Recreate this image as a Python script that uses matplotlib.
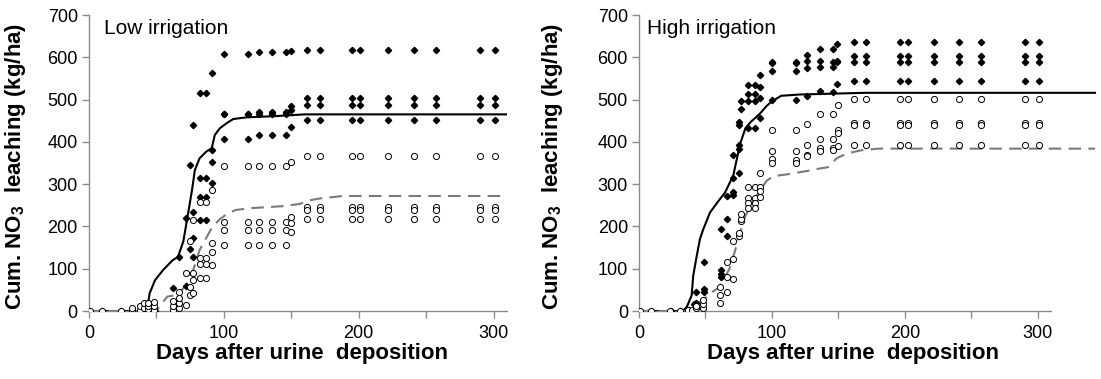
import numpy as np
import matplotlib
matplotlib.use('Agg')
import matplotlib.pyplot as plt

plt.rcParams['font.family'] = ['Liberation Sans', 'DejaVu Sans']

# ---- Low irrigation ----
low_line_day = [0, 43, 45, 49, 55, 62, 66, 70, 72.3, 74.8, 76.8, 78.5, 82, 87, 91,
                93.3, 97, 102, 107, 117, 139, 160, 310]
low_line_val = [0, 0, 42, 73, 97, 120, 128, 165, 208, 255, 294, 333, 361, 377, 385,
                416, 432, 444, 454, 458, 461, 465, 465]
low_dash_day = [0, 50, 58, 65, 72, 77.3, 82, 91, 97, 103, 109, 119, 144, 156, 164,
                171, 188, 310]
low_dash_val = [0, 0, 34, 38, 60, 97, 144, 196, 217, 231, 239, 243, 248, 253, 262,
                266, 272, 272]

late_low_days = [162, 171, 195, 201, 222, 241, 257, 290, 301]

low_fill_day = ([0, 10, 24, 32, 38, 44, 49,
                 62, 67, 67, 72, 72, 75, 75, 77, 77, 77, 77,
                 82, 82, 82, 82, 87, 87, 87, 87, 91, 91, 91, 91,
                 100, 100, 100, 100, 118, 118, 118, 118,
                 126, 126, 126, 126, 136, 136, 136, 136,
                 146, 146, 146, 146, 150, 150, 150, 150]
                + [d for d in late_low_days for _ in range(4)])
low_fill_val = ([0, 0, 0, 0, 0, 0, 0,
                 54, 19, 128, 60, 221, 147, 345, 128, 173, 235, 440,
                 516, 314, 270, 215, 516, 314, 270, 215, 562, 381, 353, 302,
                 608, 467, 467, 407, 608, 467, 467, 407,
                 612, 471, 465, 417, 612, 471, 465, 417,
                 612, 471, 465, 417, 616, 484, 476, 434]
                + [618, 504, 487, 452] * len(late_low_days))

low_open_day = ([1, 10, 24, 32, 32, 38, 38, 41, 41, 44, 44, 44, 48, 48, 48,
                 62, 62, 62, 67, 67, 67, 67, 72, 72, 75, 75, 75, 77, 77, 77, 77,
                 82, 82, 82, 82, 87, 87, 87, 87, 91, 91, 91, 91,
                 100, 100, 100, 100, 118, 118, 118, 118, 126, 126, 126, 126,
                 136, 136, 136, 136, 146, 146, 146, 146, 150, 150, 150, 150]
                + [d for d in late_low_days for _ in range(4)])
low_open_val = ([0, 0, 0, 0, 7, 3, 12, 8, 18, 4, 12, 20, 2, 12, 22,
                 2, 12, 24, 7, 19, 30, 45, 14, 89, 38, 57, 166, 43, 73, 89, 215,
                 257, 125, 110, 77, 257, 125, 110, 77, 286, 160, 139, 109,
                 344, 211, 192, 155, 344, 211, 192, 156, 344, 211, 192, 156,
                 344, 211, 192, 156, 344, 211, 192, 156, 353, 223, 207, 188]
                + [366, 246, 239, 217] * len(late_low_days))

# ---- High irrigation ----
high_line_day = [0, 33, 36, 39.6, 40.8, 43.4, 45.8, 48.4, 53.4, 59.7, 64.7, 68.5, 71,
                 76, 80, 84, 91, 96, 100, 107, 121, 146, 170, 343]
high_line_val = [0, 0, 10, 37, 84, 130, 170, 194, 233, 260, 280, 305, 322,
                 395, 432, 447, 467, 485, 496, 509, 512, 514, 516, 516]
high_dash_day = [0, 34, 40, 48, 55, 60, 64, 68, 72, 76, 80, 86, 91, 96, 101, 111,
                 126, 136, 142, 149, 157, 167, 180, 343]
high_dash_val = [0, 0, 12, 25, 45, 55, 75, 100, 140, 186, 225, 262, 285, 308, 319, 323,
                 331, 337, 340, 362, 373, 380, 384, 384]

late_high_days = [162, 171, 196, 202, 222, 241, 257, 290, 301]

high_fill_day = ([0, 9, 24, 31, 38, 41, 43, 43, 49, 49, 49,
                  61.5, 61.5, 61.5, 61.5, 66.5, 66.5, 66.5, 71, 71, 71, 71,
                  75, 75, 75, 75, 75, 77, 77,
                  82, 82, 82, 82, 87, 87, 87, 87, 91, 91, 91, 91,
                  100, 100, 100, 100, 118, 118, 118, 118, 126, 126, 126, 126,
                  136, 136, 136, 136, 146, 146, 146, 146, 149, 149, 149, 149]
                 + [d for d in late_high_days for _ in range(4)])
high_fill_val = ([0, 0, 0, 0, 0, 17, 20, 45, 45, 52, 115,
                  194, 96, 88, 80, 272, 217, 178, 370, 315, 282, 274,
                  392, 382, 327, 440, 446, 497, 478,
                  535, 514, 496, 432, 535, 514, 496, 432, 559, 530, 504, 457,
                  590, 586, 568, 500, 588, 586, 568, 500, 606, 592, 575, 509,
                  619, 592, 577, 520, 619, 590, 578, 518, 631, 592, 590, 536]
                 + [635, 603, 590, 545] * len(late_high_days))

high_open_day = ([0.5, 9, 23, 31, 37, 40, 43, 43, 48, 48, 48,
                  61, 61, 61, 66, 66, 66, 71, 71, 71, 75, 75, 77, 77, 77,
                  82, 82, 82, 82, 87, 87, 87, 87, 91, 91, 91, 91,
                  100, 100, 100, 100, 118, 118, 118, 118, 126, 126, 126, 126,
                  136, 136, 136, 136, 146, 146, 146, 146, 150, 150, 150, 150]
                 + [d for d in late_high_days for _ in range(4)])
high_open_val = ([0, 0, 0, 0, 2, 3, 6, 12, 7, 17, 27,
                  20, 37, 57, 45, 80, 115, 76, 123, 166, 177, 185, 213, 217, 229,
                  294, 268, 255, 243, 294, 268, 255, 243, 326, 294, 284, 270,
                  427, 378, 359, 349, 427, 378, 357, 349, 443, 392, 370, 366,
                  465, 407, 386, 378, 465, 407, 386, 380, 486, 428, 421, 390]
                 + [502, 445, 439, 392] * len(late_high_days))

spine_col = '#8c8c8c'

fig = plt.figure(figsize=(11.01, 3.79), dpi=100)
ax_low = fig.add_axes([0.0808, 0.1794, 0.3797, 0.781])
ax_high = fig.add_axes([0.5804, 0.1794, 0.4166, 0.781])


def draw_panel(ax, title, line_d, line_v, dash_d, dash_v,
               fill_d, fill_v, open_d, open_v, xmax, ylab_x, xlab_x, title_x):
    ax.plot(line_d, line_v, color='black', lw=1.5, zorder=2)
    ax.plot(dash_d, dash_v, color='#7a7a7a', lw=1.5, dashes=(6, 3.5), zorder=2)
    ax.plot(fill_d, fill_v, ls='none', marker='D', ms=3.2, color='black',
            mec='black', zorder=3)
    ax.plot(open_d, open_v, ls='none', marker='o', ms=4.4, mfc='white',
            mec='black', mew=0.7, zorder=4)

    ax.set_xlim(0, xmax)
    ax.set_ylim(0, 700)
    ax.spines['top'].set_visible(False)
    ax.spines['right'].set_visible(False)
    for s in ('left', 'bottom'):
        ax.spines[s].set_color(spine_col)
        ax.spines[s].set_linewidth(1.0)
    ax.spines['bottom'].set_bounds(0, 310)

    ax.set_xticks(np.arange(0, 301, 50))
    ax.set_xticklabels(['0', '', '100', '', '200', '', '300'])
    ax.set_yticks(np.arange(0, 701, 100))
    ax.tick_params(axis='both', colors=spine_col, labelcolor='black',
                   labelsize=13, length=5, width=1.0, direction='out')
    ax.tick_params(axis='x', pad=5)
    ax.tick_params(axis='y', pad=3)

    ax.set_ylabel('Cum. NO$_\\mathregular{3}$  leaching (kg/ha)', fontsize=16,
                  fontweight='bold')
    ax.yaxis.set_label_coords(ylab_x, 0.49)
    ax.set_xlabel('Days after urine  deposition', fontsize=16,
                  fontweight='bold')
    ax.xaxis.set_label_coords(xlab_x, -0.108)

    ax.text(title_x, 0.955, title, transform=ax.transAxes,
            fontsize=15, va='center', ha='left')


draw_panel(ax_low, 'Low irrigation', low_line_day, low_line_val,
           low_dash_day, low_dash_val, low_fill_day, low_fill_val,
           low_open_day, low_open_val, 310, -0.146, 0.51, 0.035)
draw_panel(ax_high, 'High irrigation', high_line_day, high_line_val,
           high_dash_day, high_dash_val, high_fill_day, high_fill_val,
           high_open_day, high_open_val, 345, -0.161, 0.467, 0.018)

fig.savefig('out.png', dpi=100)
